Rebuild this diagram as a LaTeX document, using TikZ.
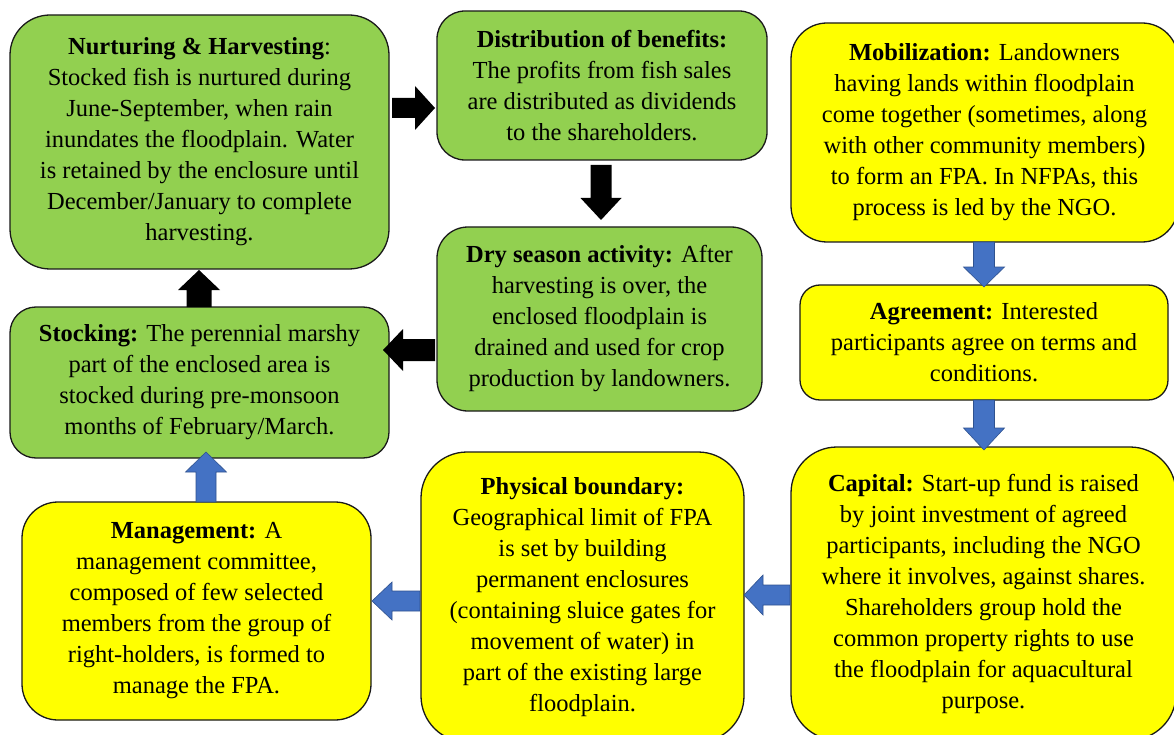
\documentclass[tikz,border=0pt]{standalone}
\usepackage{fontspec}
\setmainfont{Liberation Serif}
\usetikzlibrary{calc}
\definecolor{fpgreen}{HTML}{92D050}
\definecolor{fpyellow}{HTML}{FFFF00}
\definecolor{fpblue}{HTML}{4472C4}
\definecolor{fpblueline}{HTML}{2F528F}
\definecolor{fpline}{HTML}{1A1A1A}
% horizontal block arrow: style, start, tip, half shaft, half head, head length
\newcommand\harr[6]{%
  \draw[#1] let \p1=#2, \p2=#3, \n1={(\x2>\x1 ? 1 : -1)*#6} in
   (\x1,\y1-#4) -- (\x2-\n1,\y1-#4) -- (\x2-\n1,\y1-#5) -- (\x2,\y1) --
   (\x2-\n1,\y1+#5) -- (\x2-\n1,\y1+#4) -- (\x1,\y1+#4) -- cycle;}
% vertical block arrow
\newcommand\varr[6]{%
  \draw[#1] let \p1=#2, \p2=#3, \n1={(\y2>\y1 ? 1 : -1)*#6} in
   (\x1-#4,\y1) -- (\x1-#4,\y2-\n1) -- (\x1-#5,\y2-\n1) -- (\x1,\y2) --
   (\x1+#5,\y2-\n1) -- (\x1+#4,\y2-\n1) -- (\x1+#4,\y1) -- cycle;}
\tikzset{
  box/.style={draw=fpline, line width=1.3pt, align=center, inner sep=0pt, outer sep=0pt,
    font=\fontsize{24.5}{31}\selectfont},
  gbox/.style={box, fill=fpgreen},
  ybox/.style={box, fill=fpyellow},
  blackarr/.style={fill=black, draw=none},
  bluearr/.style={fill=fpblue, draw=fpblueline, line width=0.6pt},
}
\begin{document}
\begin{tikzpicture}[x=1pt,y=-1pt]
\path[use as bounding box] (0,0) rectangle (1174,735);
\clip (0,0) rectangle (1174,735);
\fill[white] (0,0) rectangle (1174,735);

\node[gbox, minimum width=379pt, minimum height=254pt, rounded corners=40pt] (nurt) at (199.5,142)
 {\textbf{Nurturing \& Harvesting}:\\ Stocked fish is nurtured during\\ June-September, when rain\\ inundates the floodplain. Water\\ is retained by the enclosure until\\ December/January to complete\\ harvesting.};
\node[gbox, minimum width=330pt, minimum height=149pt, rounded corners=28pt] (dist) at (602,85.5)
 {\textbf{Distribution of benefits:}\\ The profits from fish sales\\ are distributed as dividends\\ to the shareholders.};
\node[ybox, minimum width=387pt, minimum height=219pt, rounded corners=36pt] (mob) at (984.5,132.5)
 {\textbf{Mobilization:} Landowners\\ having lands within floodplain\\ come together (sometimes, along\\ with other community members)\\ to form an FPA. In NFPAs, this\\ process is led by the NGO.};
\node[gbox, minimum width=325pt, minimum height=184pt, rounded corners=31pt] (dry) at (599.5,319)
 {\textbf{Dry season activity:} After\\ harvesting is over, the\\ enclosed floodplain is\\ drained and used for crop\\ production by landowners.};
\node[gbox, minimum width=379pt, minimum height=151pt, rounded corners=26pt] (stock) at (199.5,382.5)
 {\textbf{Stocking:} The perennial marshy\\ part of the enclosed area is\\ stocked during pre-monsoon\\ months of February/March.};
\node[ybox, minimum width=368pt, minimum height=115pt, rounded corners=20pt] (agree) at (984,342.5)
 {\textbf{Agreement:} Interested\\ participants agree on terms and\\ conditions.};
\node[ybox, minimum width=349pt, minimum height=218pt, rounded corners=36pt] (manage) at (196.5,611)
 {\textbf{Management:} A\\ management committee,\\ composed of few selected\\ members from the group of\\ right-holders, is formed to\\ manage the FPA.};
\node[ybox, minimum width=323pt, minimum height=290pt, rounded corners=46pt] (phys) at (582.5,597)
 {\textbf{Physical boundary:}\\ Geographical limit of FPA\\ is set by building\\ permanent enclosures\\ (containing sluice gates for\\ movement of water) in\\ part of the existing large\\ floodplain.};
\node[ybox, minimum width=385pt, minimum height=293pt, rounded corners=46pt] (cap) at (983.5,593.5)
 {\textbf{Capital:} Start-up fund is raised\\ by joint investment of agreed\\ participants, including the NGO\\ where it involves, against shares.\\ Shareholders group hold the\\ common property rights to use\\ the floodplain for aquacultural\\ purpose.};

% connector end points
\coordinate (a1s) at (392,108);  \coordinate (a1t) at (435,108);
\coordinate (a2s) at (601,165);  \coordinate (a2t) at (601,220);
\coordinate (a3s) at (199,307);  \coordinate (a3t) at (199,270);
\coordinate (a4s) at (435,350);  \coordinate (a4t) at (383,350);
\coordinate (a5s) at (206,502);  \coordinate (a5t) at (206,452);
\coordinate (a6s) at (420,601);  \coordinate (a6t) at (372,601);
\coordinate (a7s) at (790,595);  \coordinate (a7t) at (744,595);
\coordinate (a8s) at (984,242);  \coordinate (a8t) at (984,287);
\coordinate (a9s) at (984,400);  \coordinate (a9t) at (984,450);

\harr{blackarr}{(a1s)}{(a1t)}{10}{22}{20}
\varr{blackarr}{(a2s)}{(a2t)}{10.5}{20.5}{22}
\varr{blackarr}{(a3s)}{(a3t)}{12.5}{21}{20}
\harr{blackarr}{(a4s)}{(a4t)}{11}{21}{20}
\varr{bluearr}{(a5s)}{(a5t)}{10}{20.5}{20}
\harr{bluearr}{(a6s)}{(a6t)}{10}{19}{20}
\harr{bluearr}{(a7s)}{(a7t)}{10}{20}{19}
\varr{bluearr}{(a8s)}{(a8t)}{10.5}{20.5}{20}
\varr{bluearr}{(a9s)}{(a9t)}{10.5}{20.5}{22}
\end{tikzpicture}
\end{document}
